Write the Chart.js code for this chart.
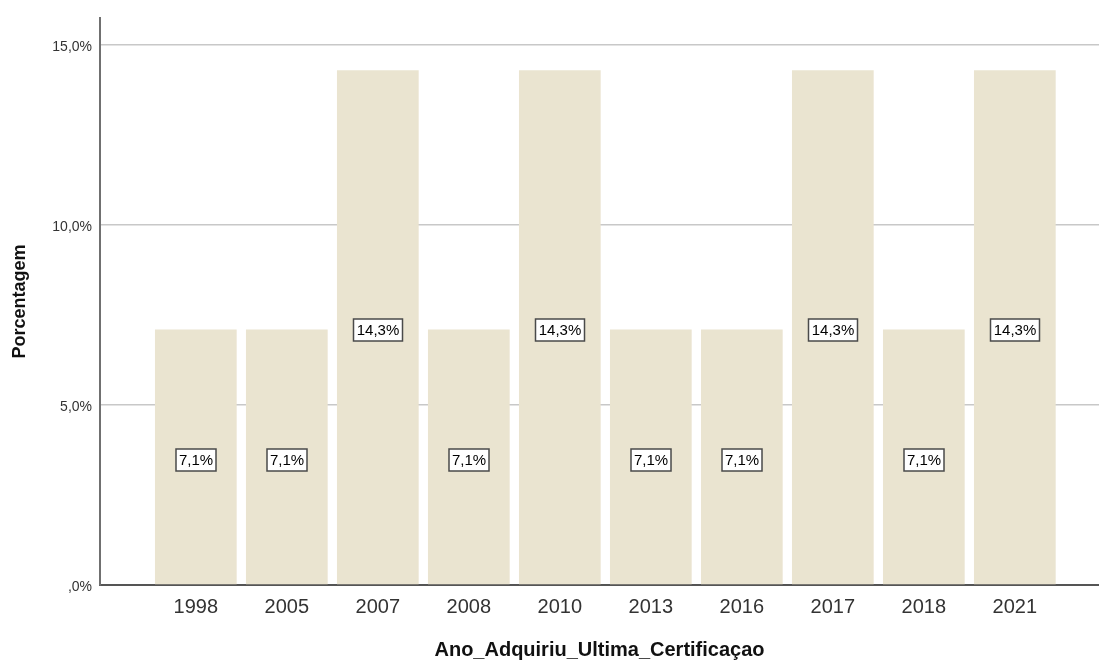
<!DOCTYPE html>
<html>
<head>
<meta charset="utf-8">
<script src="https://cdn.jsdelivr.net/npm/chart.js@4/dist/chart.umd.min.js"></script>
<style>
  body { margin: 0; background: #fff; }
</style>
</head>
<body>
<canvas id="barChart" width="1099" height="660"></canvas>
<script>
// years and share of respondents (%)
var years = ['1998', '2005', '2007', '2008', '2010', '2013', '2016', '2017', '2018', '2021'];
var pct = [7.1, 7.1, 14.3, 7.1, 14.3, 7.1, 7.1, 14.3, 7.1, 14.3];
var yTicks = [0, 5, 10, 15];

var fontFamily = '"Liberation Sans", Arial, sans-serif';

function fmtPct(v) {
    return v.toFixed(1).replace('.', ',').replace(/^0,/, ',') + '%';
}

// boxed value label in the middle of each bar
var barLabels = {
    id: 'barLabels',
    afterDatasetsDraw: function (chart) {
        var ctx = chart.ctx;
        var meta = chart.getDatasetMeta(0);
        ctx.save();
        ctx.font = '15px ' + fontFamily;
        ctx.textAlign = 'center';
        ctx.textBaseline = 'middle';
        meta.data.forEach(function (bar, i) {
            var text = fmtPct(pct[i]);
            var w = Math.round(ctx.measureText(text).width) + 6;
            var h = 22;
            var cx = Math.round(bar.x);
            var cy = Math.round((bar.y + bar.base) / 2) + 3;
            ctx.fillStyle = '#ffffff';
            ctx.fillRect(cx - w / 2, cy - h / 2, w, h);
            ctx.strokeStyle = '#4a4a4a';
            ctx.lineWidth = 1.5;
            ctx.strokeRect(cx - w / 2, cy - h / 2, w, h);
            ctx.fillStyle = '#000000';
            ctx.fillText(text, cx, cy + 1);
        });
        ctx.restore();
    }
};

var ctx = document.getElementById('barChart').getContext('2d');
var barChart = new Chart(ctx, {
    type: 'bar',
    data: {
        datasets: [{
            label: 'Porcentagem',
            data: years.map(function (y, i) { return { x: i, y: pct[i] }; }),
            backgroundColor: '#EAE4D0',
            borderWidth: 0,
            categoryPercentage: 1,
            barPercentage: 0.898
        }]
    },
    options: {
        responsive: false,
        animation: false,
        devicePixelRatio: 1,
        layout: { padding: { top: 18, left: 0, right: 0, bottom: 0 } },
        plugins: {
            legend: { display: false },
            tooltip: { enabled: false }
        },
        scales: {
            x: {
                type: 'linear',
                offset: false,
                min: -1.053,
                max: 9.925,
                afterBuildTicks: function (scale) {
                    scale.ticks = years.map(function (y, i) { return { value: i }; });
                },
                afterFit: function (scale) { scale.height = 75; },
                grid: { display: false, drawTicks: false },
                border: { display: true, color: '#555555', width: 2 },
                ticks: {
                    padding: 10,
                    color: '#333333',
                    font: { family: fontFamily, size: 20 },
                    callback: function (v) { return years[v]; }
                },
                title: {
                    display: true,
                    text: 'Ano_Adquiriu_Ultima_Certificaçao',
                    color: '#111111',
                    font: { family: fontFamily, size: 20, weight: 'bold', lineHeight: 1 },
                    padding: { top: 0, bottom: 0 }
                }
            },
            y: {
                min: 0,
                max: 15.75,
                afterBuildTicks: function (scale) {
                    scale.ticks = yTicks.map(function (v) { return { value: v }; });
                },
                afterFit: function (scale) { scale.width = 100; },
                grid: { color: '#c8c8c8', lineWidth: 1.5, drawTicks: false },
                border: { display: true, color: '#707070', width: 2 },
                ticks: {
                    padding: 8,
                    labelOffset: 2,
                    color: '#333333',
                    font: { family: fontFamily, size: 14 },
                    callback: function (v) { return fmtPct(v); }
                },
                title: {
                    display: true,
                    text: 'Porcentagem',
                    color: '#111111',
                    font: { family: fontFamily, size: 18, weight: 'bold', lineHeight: 1 },
                    padding: { top: 11, bottom: 0 }
                }
            }
        }
    },
    plugins: [barLabels]
});
</script>
</body>
</html>
